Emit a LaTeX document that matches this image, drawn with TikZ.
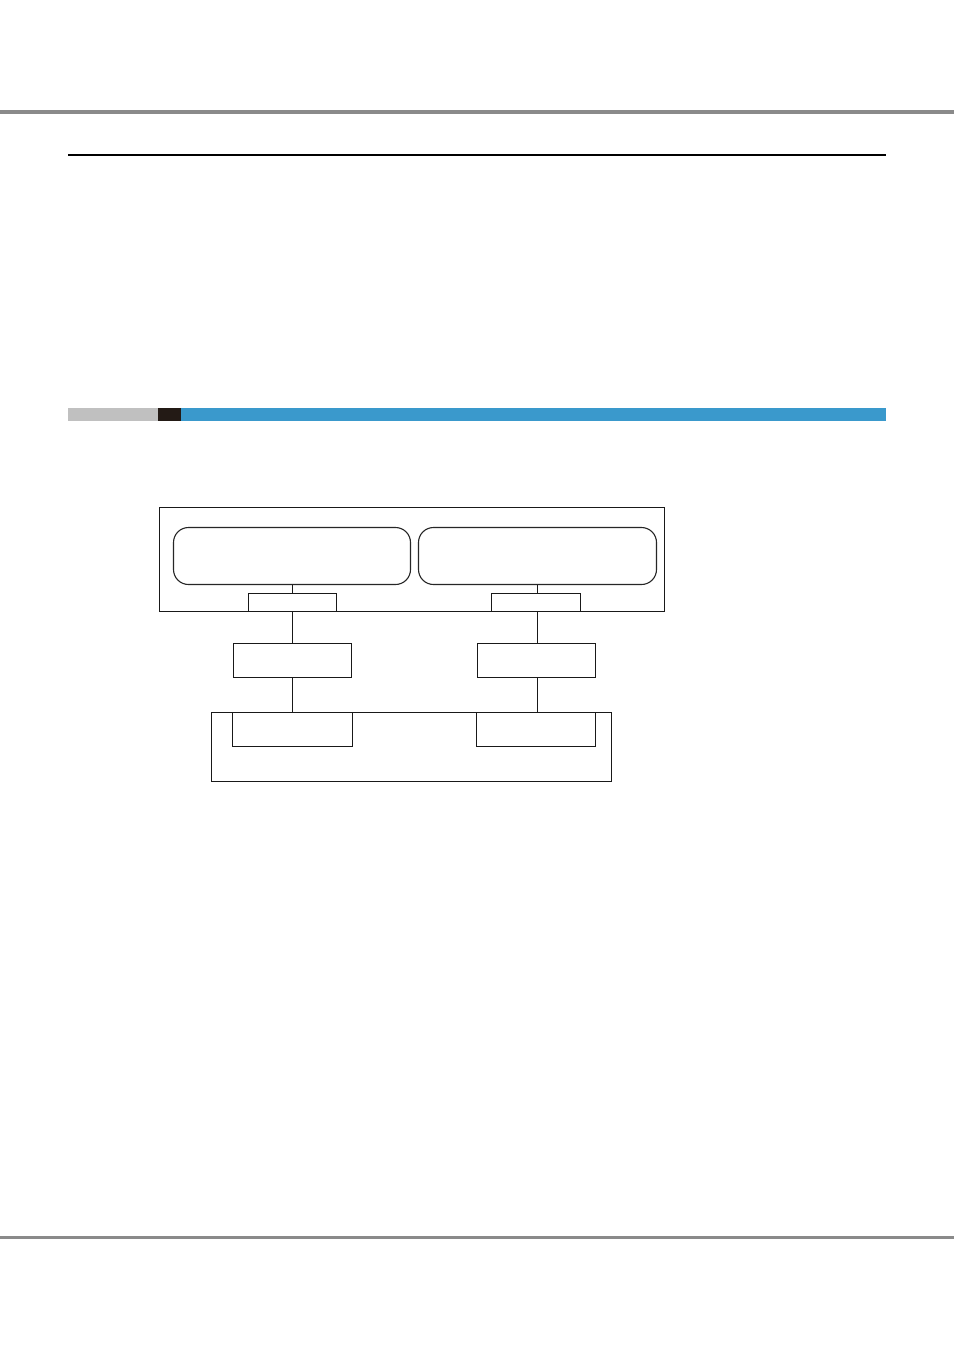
\documentclass[tikz,border=0pt]{standalone}
\begin{document}
\begin{tikzpicture}[x=1pt,y=-1pt,
  box/.style={draw=black!90,line width=1.1pt,fill=white},
  rbox/.style={draw=black!85,line width=1.1pt,rounded corners=15pt},
  wire/.style={draw=black!90,line width=1.1pt}]
\definecolor{rulegray}{HTML}{8A8A8A}
\definecolor{bargray}{HTML}{C0C0C0}
\definecolor{bardark}{HTML}{231A15}
\definecolor{barblue}{HTML}{3A99CC}
\useasboundingbox (0,0) rectangle (954,1350);
% page rules
\fill[rulegray] (0,110) rectangle (954,113.5);
\fill[black] (68,154) rectangle (886,156);
\fill[rulegray] (0,1235.5) rectangle (954,1238.5);
% section bar
\fill[bargray] (68,408) rectangle (158,420.5);
\fill[bardark] (158,408) rectangle (181,420.5);
\fill[barblue] (181,408) rectangle (886,420.5);
% top outer box
\draw[box] (159.5,507.5) rectangle (664.5,611.5);
\draw[rbox] (173.5,527.5) rectangle (410.5,584.5);
\draw[rbox] (418.5,527.5) rectangle (656.5,584.5);
\coordinate (rl) at (292.5,584.5);
\coordinate (rr) at (537.5,584.5);
\node[box,inner sep=0,minimum width=88pt,minimum height=18pt] (sl) at (292.5,602.5) {};
\node[box,inner sep=0,minimum width=89pt,minimum height=18pt] (sr) at (536,602.5) {};
\draw[wire] (rl) -- (rl |- sl.north);
\draw[wire] (rr) -- (rr |- sr.north);
% middle boxes
\node[box,inner sep=0,minimum width=118pt,minimum height=34pt] (ml) at (292.5,660.5) {};
\node[box,inner sep=0,minimum width=118pt,minimum height=34pt] (mr) at (536.5,660.5) {};
\draw[wire] (sl.south -| ml.north) -- (ml.north);
\draw[wire] (rr |- sr.south) -- (rr |- mr.north);
% bottom outer box
\draw[box] (211.5,712.5) rectangle (611.5,781.5);
\node[box,inner sep=0,minimum width=120pt,minimum height=34pt] (bl) at (292.5,729.5) {};
\node[box,inner sep=0,minimum width=119pt,minimum height=34pt] (br) at (536,729.5) {};
\draw[wire] (ml.south) -- (ml.south |- bl.north);
\draw[wire] (rr |- mr.south) -- (rr |- br.north);
\end{tikzpicture}
\end{document}
